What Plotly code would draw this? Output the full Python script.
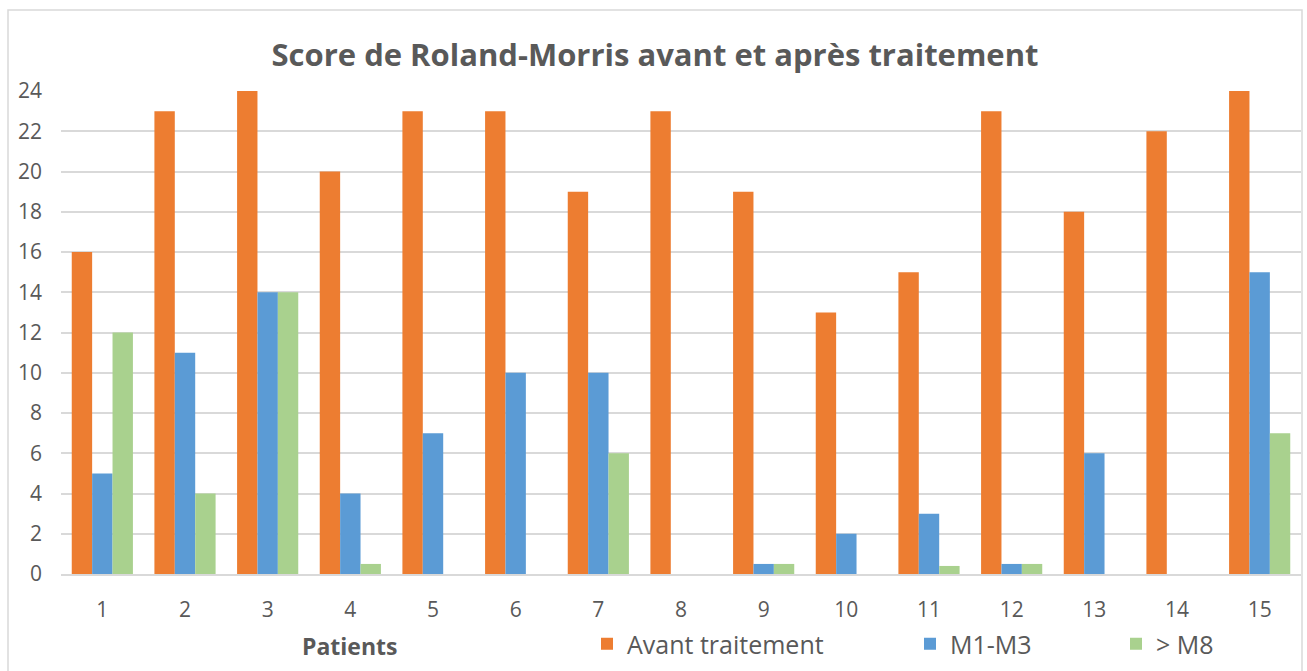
import plotly.graph_objects as go

# Roland-Morris disability scores per patient
patients = [str(i) for i in range(1, 16)]
avant = [16, 23, 24, 20, 23, 23, 19, 23, 19, 13, 15, 23, 18, 22, 24]
m1_m3 = [5, 11, 14, 4, 7, 10, 10, 0, 0.5, 2, 3, 0.5, 6, 0, 15]
apres_m8 = [12, 4, 14, 0.5, 0, 0, 6, 0, 0.5, 0, 0.4, 0.5, 0, 0, 7]

series_names = ["Avant traitement", "M1-M3", "> M8"]
colors = ["#ED7D31", "#5B9BD5", "#A9D18E"]
y_ticks = list(range(0, 25, 2))

W, H = 1307, 671
L, R, T, B = 61, 6, 91, 97
plot_w = W - L - R
plot_h = H - T - B

def px_x(px):
    return (px - L) / plot_w

def px_y(py):
    return (H - B - py) / plot_h

FONT = "Open Sans"
GREY = "#595959"

fig = go.Figure()
legend_ids = ["legend", "legend2", "legend3"]
for name, vals, col, lg in zip(series_names, [avant, m1_m3, apres_m8], colors, legend_ids):
    fig.add_trace(go.Bar(
        x=patients, y=vals, name=name, legend=lg, showlegend=True,
        marker=dict(color=col, line=dict(width=0)),
    ))

legend_style = dict(
    orientation="h", xref="paper", yref="paper",
    xanchor="left", yanchor="middle",
    bgcolor="rgba(0,0,0,0)", borderwidth=0,
    font=dict(family=FONT, size=25, color=GREY),
)

fig.update_layout(
    width=W, height=H,
    margin=dict(l=L, r=R, t=T, b=B, autoexpand=False),
    paper_bgcolor="white", plot_bgcolor="white",
    showlegend=True,
    barmode="group", bargap=0.26, bargroupgap=0,
    title=dict(
        text="<b>Score de Roland-Morris avant et après traitement</b>",
        x=655 / W, xref="container", xanchor="center",
        y=1 - 55 / H, yref="container", yanchor="middle",
        font=dict(family=FONT, size=31, color=GREY),
    ),
    legend=dict(legend_style, x=px_x(587), y=px_y(644)),
    legend2=dict(legend_style, x=px_x(910), y=px_y(644)),
    legend3=dict(legend_style, x=px_x(1116), y=px_y(644)),
    xaxis=dict(
        type="category",
        showgrid=False,
        showline=True, linecolor="#D9D9D9", linewidth=1.5,
        ticks="", ticklabelstandoff=16,
        tickfont=dict(family=FONT, size=21, color=GREY),
    ),
    yaxis=dict(
        range=[0, 24], tickvals=y_ticks,
        showgrid=True, gridcolor="#D9D9D9", gridwidth=1.5,
        zeroline=False, showline=False,
        ticks="", ticklabelstandoff=18,
        tickfont=dict(family=FONT, size=21, color=GREY),
    ),
    annotations=[dict(
        text="<b>Patients</b>", xref="paper", yref="paper",
        x=px_x(349), y=px_y(646), xanchor="center", yanchor="middle",
        showarrow=False, font=dict(family=FONT, size=23, color=GREY),
    )],
    shapes=[dict(
        type="rect", xref="paper", yref="paper",
        x0=px_x(8), x1=px_x(1302), y0=px_y(690), y1=px_y(10),
        line=dict(color="#D9D9D9", width=1.5), fillcolor="rgba(0,0,0,0)",
        layer="below",
    )],
)

fig.write_html("out.html")
